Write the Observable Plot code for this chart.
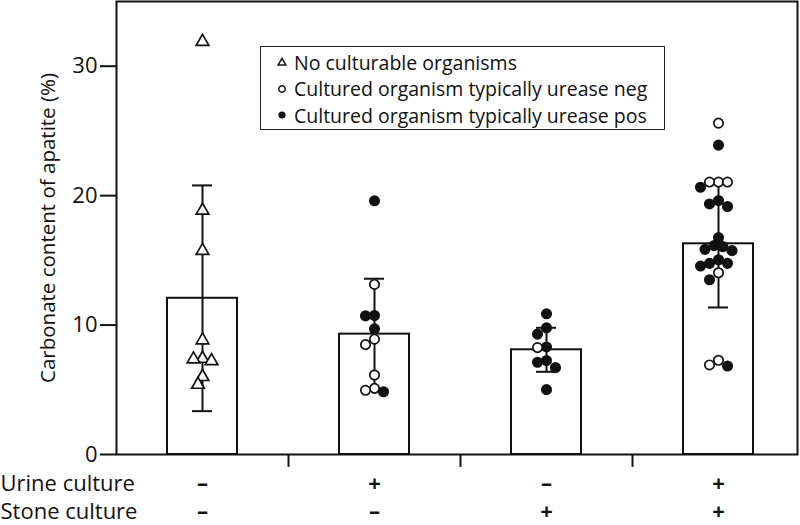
<!DOCTYPE html>
<html><head><meta charset="utf-8">
<script src="https://cdn.jsdelivr.net/npm/d3@7"></script>
<script src="https://cdn.jsdelivr.net/npm/@observablehq/plot@0.6"></script>
<style>
html,body{margin:0;padding:0;background:#fff;}
#wrap{position:relative;width:800px;height:525px;font-family:"Open Sans",sans-serif;}
#legend{position:absolute;left:260px;top:46px;width:403px;height:82px;border:1.5px solid #222;background:#fff;}
.row{position:absolute;left:0;height:26px;display:flex;align-items:center;font-size:19.5px;color:#111;white-space:nowrap;}
.row svg{margin-left:16px;margin-right:7px;}
</style></head><body><div id="wrap"></div>
<script>
// ---- data ----
const groups = ["U− S−", "U+ S−", "U− S+", "U+ S+"];
const urineSigns = ["–", "+", "–", "+"];
const stoneSigns = ["–", "–", "+", "+"];
const rowLabels = ["Urine culture", "Stone culture"];
const yTicks = [0, 10, 20, 30];
const yLabel = "Carbonate content of apatite (%)";

const barMeans = [12.07, 9.30, 8.09, 16.28];
const barSDs = [8.72, 4.28, 1.70, 4.92];

const group1Values = [31.9, 18.85, 15.75, 8.83, 7.41, 7.23, 7.36, 6.0, 5.4];
const group1Types = ["none","none","none","none","none","none","none","none","none"];
const group2Values = [19.6, 13.14, 10.74, 10.71, 9.71, 8.91, 8.49, 6.14, 5.11, 4.96, 4.85];
const group2Types = ["pos","neg","pos","pos","pos","neg","neg","neg","neg","neg","pos"];
const group3Values = [10.87, 9.78, 9.30, 8.31, 8.26, 7.26, 7.13, 6.71, 5.01];
const group3Types = ["pos","pos","pos","pos","neg","pos","pos","pos","pos"];
const group4Values = [25.6, 23.9, 21.05, 21.05, 21.05, 20.65, 19.62, 19.36, 19.16, 16.76, 16.14, 16.06, 15.85, 15.75, 15.05, 14.77, 14.77, 14.56, 14.04, 13.5, 7.28, 6.92, 6.84];
const group4Types = ["neg","pos","neg","neg","neg","pos","pos","pos","pos","pos","pos","pos","pos","pos","pos","pos","pos","pos","neg","pos","neg","neg","pos"];

const typeKeys = ["none", "neg", "pos"];
const legendLabels = ["No culturable organisms", "Cultured organism typically urease neg", "Cultured organism typically urease pos"];

// ---- layout ----
const W = 800, H = 525, mL = 116, mR = 3, mT = 1, mB = 71;
const xRange = [116, 804];
const step = (xRange[1] - xRange[0]) / groups.length;
const R = 4.7, colStep = 4.5;

const bars = groups.map((g, i) => ({group: g, mean: barMeans[i], sd: barSDs[i]}));
const allVals = [group1Values, group2Values, group3Values, group4Values];
const allTypes = [group1Types, group2Types, group3Types, group4Types];

// beeswarm columns (computed)
const yPix = d3.scaleLinear([0, 35], [H - mB, mT]);
const points = [];
allVals.forEach((vals, gi) => {
  const placed = [];
  vals.map((v, j) => ({group: groups[gi], value: v, type: allTypes[gi][j]}))
    .sort((a, b) => b.value - a.value)
    .forEach(p => {
      const py = yPix(p.value);
      for (let n = 0; n < 40; n++) {
        const k = n === 0 ? 0 : (n % 2 ? -Math.ceil(n / 2) : Math.ceil(n / 2));
        const ok = placed.every(q => {
          const dx = (k - q.k) * colStep, dy = py - q.py;
          return dx * dx + dy * dy >= (2 * R * 0.9) ** 2;
        });
        if (ok) { p.k = k; p.py = py; placed.push(p); points.push(p); break; }
      }
    });
});
const cols = [...new Set(points.map(p => p.k))];

const dotMarks = cols.map(k => Plot.dot(points.filter(p => p.k === k), {
  x: "group", y: "value", dx: k * colStep, symbol: "type", fill: "type",
  stroke: "#111", strokeWidth: 1.7, r: R
}));

const chart = Plot.plot({
  width: W, height: H,
  marginLeft: mL, marginRight: mR, marginTop: mT, marginBottom: mB,
  style: {fontFamily: "'Open Sans', sans-serif", fontSize: "22px", color: "#111", background: "#fff"},
  x: {domain: groups, range: xRange, paddingInner: 0.593, paddingOuter: 0.2965, axis: null},
  y: {domain: [0, 35], axis: null},
  color: {domain: typeKeys, range: ["white", "white", "#111"]},
  symbol: {domain: typeKeys, range: ["triangle", "circle", "circle"]},
  marks: [
    Plot.barY(bars, {x: "group", y: "mean", fill: "white", stroke: "#111", strokeWidth: 2}),
    Plot.ruleX(bars, {x: "group", y1: d => d.mean - d.sd, y2: d => d.mean + d.sd, stroke: "#111", strokeWidth: 2}),
    Plot.tickY(bars, {x: "group", y: d => d.mean - d.sd, insetLeft: 25, insetRight: 25, stroke: "#111", strokeWidth: 2}),
    Plot.tickY(bars, {x: "group", y: d => d.mean + d.sd, insetLeft: 25, insetRight: 25, stroke: "#111", strokeWidth: 2}),
    ...dotMarks,
    Plot.frame({stroke: "#111", strokeWidth: 2}),
    Plot.axisY({ticks: yTicks, tickSize: 16, tickPadding: 3, fontSize: 22, label: null, strokeWidth: 2}),
    Plot.ruleX(groups.slice(1), {x: d => d, y1: 0, y2: -1, dx: -step / 2, stroke: "#111", strokeWidth: 2}),
    Plot.text([yLabel], {frameAnchor: "left", textAnchor: "middle", dx: -68, rotate: -90, fontSize: 20.5, fill: "#111"}),
    Plot.text([rowLabels[0]], {frameAnchor: "bottom-left", dx: -mL, dy: 36, textAnchor: "start", fontSize: 22, fill: "#111"}),
    Plot.text([rowLabels[1]], {frameAnchor: "bottom-left", dx: -mL, dy: 64, textAnchor: "start", fontSize: 22, fill: "#111"}),
    Plot.text(groups, {x: d => d, text: (d, i) => urineSigns[i], frameAnchor: "bottom", dy: 36, fontSize: 22, fontWeight: "bold", fill: "#111"}),
    Plot.text(groups, {x: d => d, text: (d, i) => stoneSigns[i], frameAnchor: "bottom", dy: 64, fontSize: 22, fontWeight: "bold", fill: "#111"})
  ]
});

const wrap = document.getElementById("wrap");
wrap.appendChild(chart);

// legend (inside plot area, top)
const legend = document.createElement("div");
legend.id = "legend";
const symbolSvg = {
  none: '<svg width="10" height="10" viewBox="-5 -5 10 10"><path d="M0,-3.6L3.8,3L-3.8,3Z" fill="white" stroke="#111" stroke-width="1.5"/></svg>',
  neg: '<svg width="10" height="10" viewBox="-5 -5 10 10"><circle r="3.2" fill="white" stroke="#111" stroke-width="1.5"/></svg>',
  pos: '<svg width="10" height="10" viewBox="-5 -5 10 10"><circle r="3.6" fill="#111"/></svg>'
};
typeKeys.forEach((k, i) => {
  const row = document.createElement("div");
  row.className = "row";
  row.style.top = (2 + i * 26.5) + "px";
  row.innerHTML = symbolSvg[k] + "<span>" + legendLabels[i] + "</span>";
  legend.appendChild(row);
});
wrap.appendChild(legend);
</script>
</body></html>
